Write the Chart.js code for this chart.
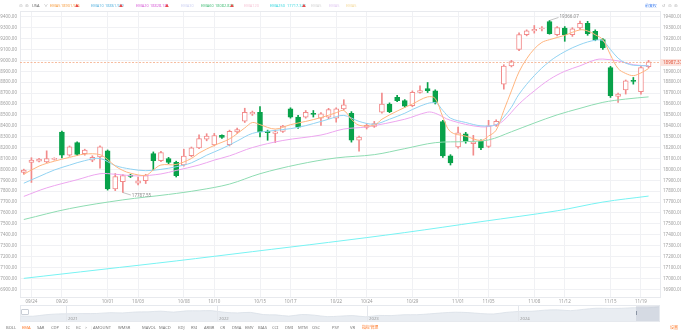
<!DOCTYPE html>
<html>
<head>
<meta charset="utf-8">
<script src="https://cdn.jsdelivr.net/npm/chart.js@4.4.1/dist/chart.umd.min.js"></script>
<style>
  body { margin: 0; width: 681px; height: 335px; overflow: hidden; background: #fff; position: relative;
         font-family: "Noto Sans", "Noto Sans CJK SC", sans-serif; }
  #main { position: absolute; left: 0; top: 0; width: 681px; height: 306px; }
  #navBox { position: absolute; left: 20px; top: 305px; width: 640px; height: 17px; }
  .yr { position: absolute; top: 305px; width: 1px; height: 17px; background: #e4e7ec; }
  #texts { position: absolute; left: 0; top: 0; pointer-events: none; }
</style>
</head>
<body>
<div id="main"><canvas id="kline"></canvas></div>

<div id="navBox"><canvas id="navChart"></canvas></div>
<div class="yr" style="left:66px"></div>
<div class="yr" style="left:217px"></div>
<div class="yr" style="left:367px"></div>
<div class="yr" style="left:518px"></div>
<div style="position:absolute;left:636px;top:305px;width:24px;height:17px;background:rgba(188,196,208,0.45)"></div>
<div style="position:absolute;left:636px;top:311px;width:1px;height:4px;background:#8a94a3"></div>
<div style="position:absolute;left:659px;top:311px;width:1px;height:4px;background:#8a94a3"></div>
<div style="position:absolute;left:21px;top:309px;width:6px;height:4px;border:0.6px solid #c9ced6;border-radius:1px;background:#fff"></div>
<div style="position:absolute;left:20px;top:305px;width:640px;height:17px;box-sizing:border-box;border:0.6px solid #e6e9ee"></div>

<canvas id="texts" width="681" height="335"></canvas>

<script>
// 4h bars, two per session
const dates = ['09/23',
  '09/24','09/24','09/25','09/25','09/26','09/26','09/27','09/27','09/30','09/30',
  '10/01','10/01','10/02','10/02','10/03','10/03','10/04','10/04','10/07','10/07',
  '10/08','10/08','10/09','10/09','10/10','10/10','10/11','10/11','10/14','10/14',
  '10/15','10/15','10/16','10/16','10/17','10/17','10/18','10/18','10/21','10/21',
  '10/22','10/22','10/23','10/23','10/24','10/24','10/25','10/25','10/28','10/28',
  '10/29','10/29','10/30','10/30','10/31','10/31','11/01','11/01','11/04','11/04',
  '11/05','11/05','11/06','11/06','11/07','11/07','11/08','11/08','11/11','11/11',
  '11/12','11/12','11/13','11/13','11/14','11/14','11/15','11/15','11/18','11/18',
  '11/19','11/19',''];
const tickSlots = [1, 5, 11, 15, 21, 25, 31, 35, 41, 45, 51, 57, 61, 67, 71, 77, 81];

const opens = [17973,18064,18075,18068,18092,18343,18130,18245,18145,18085,
  18115,18170,17821,17888,17948,17873,17897,18145,18079,18100,
  18064,18040,18125,18197,18276,18225,18312,18227,18343,18443,
  18509,18524,18348,18330,18348,18555,18479,18479,18515,18470,
  18479,18470,18555,18515,18267,18385,18395,18524,18600,18661,
  18630,18585,18706,18742,18721,18439,18124,18206,18327,18236,
  18258,18210,18403,18782,18948,19100,19236,19270,19288,19357,
  19236,19297,19236,19297,19340,19267,19191,18933,18670,18730,
  18813,18712,18943];
const highs = [18002,18107,18102,18170,18106,18352,18215,18252,18185,18125,
  18215,18178,17962,17952,17955,17930,17955,18160,18165,18110,
  18075,18185,18205,18318,18327,18330,18318,18360,18378,18561,
  18535,18575,18360,18360,18405,18565,18495,18540,18540,18520,
  18560,18565,18639,18530,18305,18420,18440,18700,18610,18680,
  18640,18720,18766,18797,18730,18450,18135,18388,18340,18312,
  18270,18450,18455,18960,19000,19252,19280,19320,19310,19366.07,
  19310,19310,19300,19360,19358,19280,19200,18945,18700,18820,
  18843,18945,19000];
const lows = [17955,17880,18068,18060,18085,18105,18120,18125,18130,18070,
  18010,17810,17805,17787.55,17925,17858,17870,17995,18070,18052,
  17930,18030,18115,18190,18262,18215,18285,18215,18330,18430,
  18495,18297,18267,18245,18340,18470,18375,18470,18480,18403,
  18465,18433,18545,18250,18166,18370,18385,18515,18520,18620,
  18570,18575,18700,18705,18600,18110,18040,18195,18240,18130,
  18180,18200,18395,18736,18940,19090,19225,19250,19270,19240,
  19225,19175,19220,19285,19230,19180,19100,18660,18615,18691,
  18782,18690,18930];
const closes = [17994,18085,18094,18100,18100,18130,18206,18136,18176,18110,
  18206,17821,17934,17943,17936,17894,17943,18079,18155,18064,
  17943,18121,18197,18282,18306,18310,18294,18348,18364,18524,
  18524,18343,18336,18345,18397,18479,18388,18524,18505,18509,
  18548,18555,18591,18267,18297,18405,18420,18600,18530,18630,
  18579,18706,18724,18721,18615,18124,18060,18336,18258,18252,
  18197,18400,18440,18948,18990,19236,19270,19285,19297,19245,
  19300,19236,19290,19340,19245,19191,19115,18676,18690,18812,
  18808,18933,18987.37];

// moving average lines, read at the marked bars
const ema5At  = [0,2,4,6,8,10,11,12,13,14,16,17,18,20,22,23,25,27,29,30,31,33,35,37,39,41,42,43,44,46,47,49,51,53,54,55,56,58,60,61,62,63,64,65,66,67,68,69,71,73,74,75,76,77,78,79,80,81,82];
const ema5Val = [17955,18030,18075,18110,18140,18135,18090,18030,17990,17965,17945,17995,18040,18045,18100,18150,18220,18280,18380,18430,18410,18370,18410,18440,18475,18520,18540,18460,18405,18405,18460,18535,18600,18665,18650,18480,18345,18305,18265,18305,18360,18540,18720,18895,19015,19105,19165,19190,19230,19280,19270,19235,19190,19050,18925,18880,18860,18885,18925];
const ema10At  = [0,2,4,6,8,10,12,14,16,18,20,22,24,26,28,30,32,34,36,38,40,42,44,46,48,50,52,54,55,56,58,60,62,63,64,65,67,69,71,73,75,76,77,78,79,80,82];
const ema10Val = [17873,17934,17994,18039,18080,18100,18035,18003,17988,18000,18024,18060,18130,18190,18260,18330,18350,18365,18385,18420,18460,18495,18440,18415,18460,18515,18580,18612,18540,18470,18430,18400,18410,18480,18570,18690,18860,18990,19080,19145,19185,19180,19100,19020,18975,18955,18950];
const ema20At  = [0,3,7,10,12,15,18,20,23,25,27,30,34,39,42,45,50,53,54,56,60,62,63,65,67,69,71,73,75,76,78,80,82];
const ema20Val = [17752,17830,17905,17960,17955,17940,17958,17990,18040,18085,18124,18200,18265,18315,18370,18390,18460,18525,18515,18450,18390,18410,18450,18600,18720,18825,18900,18950,19005,19012,18995,18960,18950];
const ema60At  = [0,6,13,19,23,27,31,36,41,46,50,54,58,61,64,67,70,73,76,79,82];
const ema60Val = [17540,17640,17720,17770,17810,17865,17960,18045,18105,18135,18190,18245,18255,18270,18345,18425,18500,18560,18615,18645,18665];
const ema250At  = [0,10,20,30,40,50,60,70,76,82];
const ema250Val = [17000,17080,17160,17245,17330,17420,17520,17620,17700,17755];

// overview strip, monthly closes Sep 2020 .. Nov 2024
const navCloses = [11168,10912,12199,12888,13070,13192,13247,13962,13749,14504,14673,15259,14449,15498,15538,15645,
  14240,13751,14221,12335,12081,11029,12391,11816,10576,10988,11468,10466,
  11585,11456,12222,12227,12935,13788,14346,14035,13219,12851,14226,15011,
  15164,16092,16379,15658,16735,17733,17599,17714,18189,18095,18987];
const navYears = ["2021", "2022", "2023", "2024"];

const upColor = "#f28b8b";
const downColor = "#08a24a";
const gridColor = "#f0f1f4";
const labelColor = "#9b9b9b";

// header and toolbar text: [text, x, colour]
const headItems = [
  ["⊖", 19, "#aaa"], ["⊕", 25, "#aaa"], ["USA", 32, "#666"], ["∨", 44, "#999"],
  ["EMA5", 50, "#f7a046"], ["18901.916", 61, "#f7a046"], ["▲", 75, "#e84a4a"],
  ["EMA10", 91, "#5fb6e0"], ["18861.939", 105, "#5fb6e0"], ["▲", 119, "#e84a4a"],
  ["EMA20", 136, "#d966d9"], ["18828.181", 150, "#d966d9"], ["▲", 165, "#e84a4a"],
  ["EMA30", 181, "#cfd3f2"],
  ["EMA60", 201, "#4cbf7c"], ["18082.829", 215, "#4cbf7c"], ["▲", 230, "#e84a4a"],
  ["EMA120", 244, "#f6c9d8"],
  ["EMA250", 270, "#3fd8e0"], ["17717.342", 287, "#3fd8e0"], ["▲", 302, "#e84a4a"],
  ["EMA5", 311, "#d6d6d6"], ["EMA5", 329, "#e3cdf2"], ["EMA5", 346, "#f5dca0"],
  ["前复权", 645, "#3b7cf0"], ["↺", 662, "#aaa"], ["⊖", 668, "#aaa"], ["⊕", 674, "#aaa"]
];
const toolItems = [
  ["BOLL", 6], ["EMA", 22, "#ff7a2a"], ["SAR", 37], ["CDP", 51], ["IC", 66], ["KC", 76], [">", 85],
  ["|", 90, "#ddd"], ["AMOUNT", 93], ["WMSR", 118], ["MAVOL", 142], ["MACD", 159], ["KDJ", 178],
  ["RSI", 191], ["ARBR", 204], ["CR", 220], ["DMA", 232], ["EMV", 245], ["BIAS", 258], ["CCI", 272],
  ["DMI", 285], ["MTM", 298], ["OSC", 312], ["PSY", 332], ["VR", 350], ["指标管理", 362, "#ff7a2a"],
  ["设置", 670, "#ff7a2a"]
];

function spread(at, vals) {
  const out = new Array(opens.length).fill(null);
  at.forEach((i, k) => { out[i] = vals[k]; });
  return out;
}

const isUp = opens.map((o, i) => closes[i] >= o);

const priceLine = {
  id: "priceLine",
  afterDatasetsDraw(chart) {
    const { ctx, chartArea, scales } = chart;
    const last = closes[closes.length - 1];
    const y = Math.round(scales.y.getPixelForValue(last)) + 0.5;
    ctx.save();
    ctx.strokeStyle = "#f4ab86";
    ctx.lineWidth = 0.8;
    ctx.setLineDash([2, 1.5]);
    ctx.beginPath();
    ctx.moveTo(chartArea.left, y);
    ctx.lineTo(chartArea.right, y);
    ctx.stroke();
    ctx.setLineDash([]);
    ctx.fillStyle = "#fbe3de";
    ctx.fillRect(chartArea.right, y - 3.5, 21, 7);
    ctx.fillStyle = "#e2553c";
    ctx.font = "4.5px 'Noto Sans'";
    ctx.textBaseline = "middle";
    ctx.fillText(last.toFixed(2), chartArea.right + 3, y);
    ctx.restore();
  }
};

const extremes = {
  id: "extremes",
  afterDatasetsDraw(chart) {
    const { ctx, scales } = chart;
    const hi = Math.max(...highs);
    const lo = Math.min(...lows);
    const hiIdx = highs.indexOf(hi);
    const loIdx = lows.indexOf(lo);
    ctx.save();
    ctx.strokeStyle = "#9a9a9a";
    ctx.fillStyle = "#8a8a8a";
    ctx.lineWidth = 0.6;
    ctx.font = "4.5px 'Noto Sans'";
    ctx.textBaseline = "middle";
    let x = scales.x.getPixelForValue(hiIdx);
    let y = scales.y.getPixelForValue(hi);
    ctx.beginPath();
    ctx.moveTo(x, y);
    ctx.lineTo(x + 9, y - 3);
    ctx.stroke();
    ctx.fillText(hi.toFixed(2), x + 10, y - 4);
    x = scales.x.getPixelForValue(loIdx);
    y = scales.y.getPixelForValue(lo);
    ctx.beginPath();
    ctx.moveTo(x, y);
    ctx.lineTo(x + 8, y + 2.5);
    ctx.stroke();
    ctx.fillText(lo.toFixed(2), x + 9, y + 3);
    ctx.restore();
  }
};

const frame = {
  id: "frame",
  beforeDatasetsDraw(chart) {
    const { ctx, chartArea } = chart;
    ctx.save();
    ctx.strokeStyle = "#e8eaee";
    ctx.lineWidth = 1;
    ctx.strokeRect(chartArea.left + 0.5, chartArea.top + 0.5, chartArea.width, chartArea.height);
    ctx.restore();
  }
};

function lineSet(data, color) {
  return {
    type: "line",
    data: data,
    borderColor: color,
    borderWidth: 1,
    pointRadius: 0,
    spanGaps: true,
    tension: 0.35,
    order: 0
  };
}

const yMin = 16829;
const yMax = 19453;

function priceAxis(position, hideRound) {
  return {
    position: position,
    min: yMin,
    max: yMax,
    grid: { display: position === "right", color: gridColor, drawTicks: false },
    border: { display: false },
    ticks: {
      stepSize: 100,
      padding: 3,
      color: labelColor,
      font: { size: 4.5, family: "Noto Sans" },
      callback: (v) => (hideRound && v === 19000) ? "" : v.toFixed(2)
    },
    afterBuildTicks: (s) => { s.ticks = s.ticks.filter(t => t.value % 100 === 0); },
    afterFit: (s) => { s.width = position === "right" ? 21 : 20; }
  };
}

function buildMain() {
  new Chart(document.getElementById("kline"), {
    type: "bar",
    data: {
      labels: dates,
      datasets: [
        lineSet(spread(ema5At, ema5Val), "#ffb57f"),
        lineSet(spread(ema10At, ema10Val), "#92d3f2"),
        lineSet(spread(ema20At, ema20Val), "#eda6ef"),
        lineSet(spread(ema60At, ema60Val), "#8edcb2"),
        lineSet(spread(ema250At, ema250Val), "#78f3f3"),
        {
          data: opens.map((o, i) => [o, closes[i]]),
          backgroundColor: isUp.map(u => u ? "#ffffff" : downColor),
          borderColor: isUp.map(u => u ? upColor : downColor),
          borderWidth: 1,
          borderSkipped: false,
          barThickness: 5,
          minBarLength: 1,
          grouped: false,
          order: 1
        },
        {
          data: lows.map((l, i) => [l, highs[i]]),
          backgroundColor: isUp.map(u => u ? upColor : downColor),
          barThickness: 1,
          grouped: false,
          order: 2
        }
      ]
    },
    options: {
      responsive: true,
      maintainAspectRatio: false,
      animation: false,
      layout: { padding: { left: 0, top: 11, right: 0, bottom: 0 } },
      plugins: { legend: { display: false }, tooltip: { enabled: false } },
      scales: {
        x: {
          offset: true,
          grid: {
            offset: false,
            drawTicks: false,
            color: (c) => tickSlots.includes(c.index) ? gridColor : "rgba(0,0,0,0)"
          },
          border: { display: false },
          ticks: {
            autoSkip: false,
            maxRotation: 0,
            padding: 2,
            color: labelColor,
            font: { size: 4.5, family: "Noto Sans" },
            callback: (v, i) => tickSlots.includes(i) ? dates[i] : ""
          },
          afterFit: (s) => { s.height = 9; }
        },
        y: priceAxis("right", true),
        yLeft: priceAxis("left", false)
      }
    },
    plugins: [frame, priceLine, extremes]
  });
}

function buildNav() {
  new Chart(document.getElementById("navChart"), {
    type: "line",
    data: {
      labels: navCloses.map((_, i) => i),
      datasets: [{
        data: navCloses,
        borderColor: "#d9dfe7",
        borderWidth: 0.8,
        backgroundColor: "#e9edf2",
        fill: "start",
        pointRadius: 0,
        tension: 0.3
      }]
    },
    options: {
      responsive: true,
      maintainAspectRatio: false,
      animation: false,
      layout: { padding: 0 },
      plugins: { legend: { display: false }, tooltip: { enabled: false } },
      scales: {
        x: { display: false },
        y: { display: false, min: 6000, max: 20500 }
      }
    }
  });
}

// tiny UI text goes on a plain canvas so no browser minimum font size applies
function drawTexts() {
  const ctx = document.getElementById("texts").getContext("2d");
  ctx.textBaseline = "middle";
  ctx.font = "3.9px 'Noto Sans', 'Noto Sans CJK SC'";
  headItems.forEach(([t, x, c]) => { ctx.fillStyle = c; ctx.fillText(t, x, 6); });
  ctx.font = "4.1px 'Noto Sans', 'Noto Sans CJK SC'";
  toolItems.forEach(([t, x, c]) => { ctx.fillStyle = c || "#777"; ctx.fillText(t, x, 327.5); });
  ctx.font = "4.3px 'Noto Sans'";
  ctx.fillStyle = "#9a9a9a";
  [68, 219, 369, 520].forEach((x, i) => ctx.fillText(navYears[i], x, 318.5));
}

document.addEventListener("DOMContentLoaded", () => {
  buildMain();
  buildNav();
  drawTexts();
});
</script>
</body>
</html>
